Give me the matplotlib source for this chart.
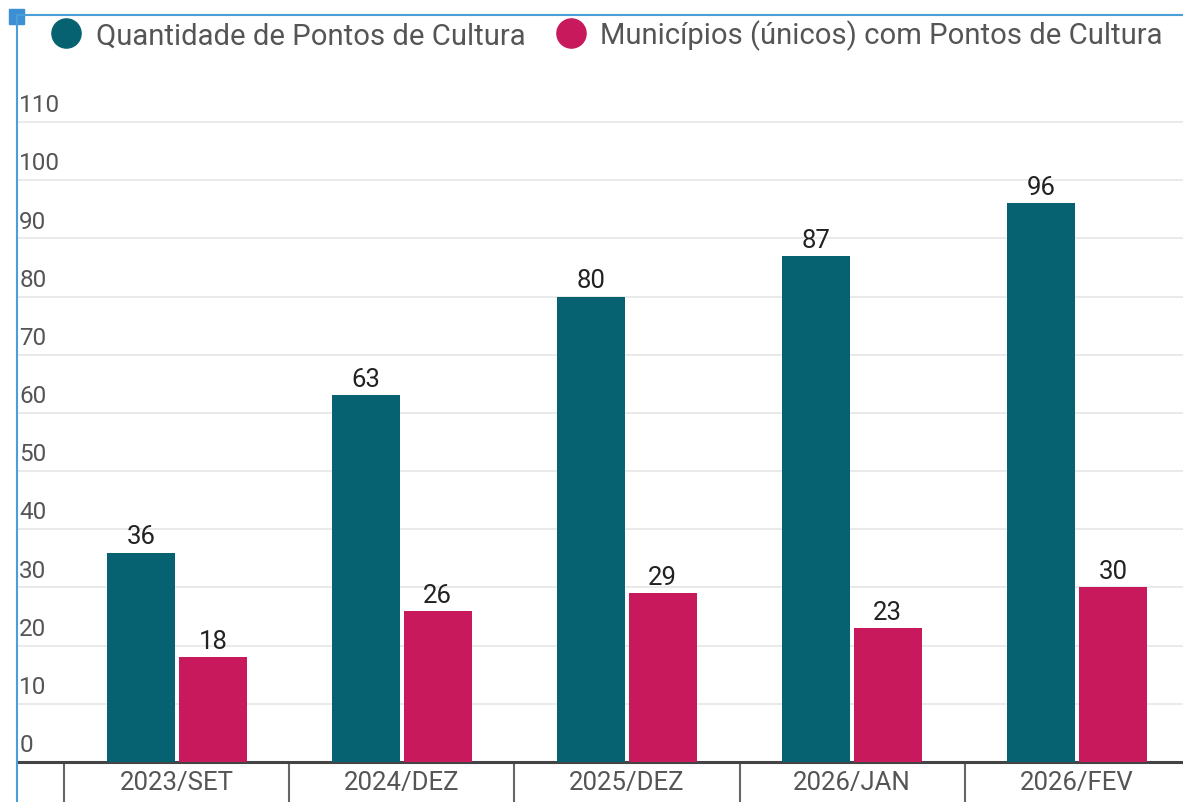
import numpy as np
import matplotlib
matplotlib.use("Agg")
import matplotlib.pyplot as plt
from matplotlib.patches import Rectangle
from matplotlib.lines import Line2D

plt.rcParams['font.family'] = ['Roboto', 'DejaVu Sans']

# Data
categories = ['2023/SET', '2024/DEZ', '2025/DEZ', '2026/JAN', '2026/FEV']
pontos = [36, 63, 80, 87, 96]
municipios = [18, 26, 29, 23, 30]
series_names = ['Quantidade de Pontos de Cultura', 'Municípios (únicos) com Pontos de Cultura']
y_ticks = [0, 10, 20, 30, 40, 50, 60, 70, 80, 90, 100, 110]

teal = '#066270'
pink = '#C8195C'
label_gray = '#555555'

fig = plt.figure(figsize=(11.83, 8.03), dpi=100)
ax = fig.add_axes([17 / 1183, 40 / 803, 1 - 17 / 1183, (763 - 16) / 803])

x = np.arange(len(categories))
w = 0.3
gap = 0.009
b1 = ax.bar(x - w / 2 - gap, pontos, width=w, color=teal, zorder=3)
b2 = ax.bar(x + w / 2 + gap, municipios, width=w, color=pink, zorder=3)

for bars, vals in ((b1, pontos), (b2, municipios)):
    for r, v in zip(bars, vals):
        ax.annotate(str(v), (r.get_x() + r.get_width() / 2, v), xytext=(0, 3),
                    textcoords='offset points', ha='center', va='bottom',
                    fontsize=18.5, color='#222222', zorder=4)

ax.set_xlim(-0.711, 4.471)
ax.set_ylim(0, 128.4)

# gridlines + y labels sitting above them
for t in y_ticks:
    if t > 0:
        ax.axhline(t, color='#e6e6e6', lw=1.2, zorder=1)
    ax.text(0.002, t + 1.0, str(t), transform=ax.get_yaxis_transform(),
            ha='left', va='bottom', fontsize=17.5, color=label_gray)

ax.set_yticks([])
ax.set_xticks(x)
ax.set_xticklabels(categories, fontsize=18.5, color=label_gray)
ax.set_xticks(np.arange(len(categories)) - 0.5, minor=True)
ax.tick_params(axis='x', which='major', length=0, pad=6)
ax.tick_params(axis='x', which='minor', length=30, width=1.5, color='#666666')

for s in ('top', 'right', 'left'):
    ax.spines[s].set_visible(False)
ax.spines['bottom'].set_color('#444444')
ax.spines['bottom'].set_linewidth(2.2)

# legend
handles = [Line2D([], [], marker='o', ls='', markersize=21, color=teal),
           Line2D([], [], marker='o', ls='', markersize=21, color=pink)]
fig.legend(handles, series_names, loc='center left', bbox_to_anchor=(51 / 1183, 1 - 36 / 803),
           ncol=2, frameon=False, fontsize=21.1, labelcolor=label_gray,
           handlelength=1.0, handletextpad=0.52, columnspacing=1.05,
           borderaxespad=0, borderpad=0)

# selection frame
fig.add_artist(Line2D([17 / 1183, 17 / 1183], [0, 1 - 16 / 803], transform=fig.transFigure,
                      color='#4a9fd9', lw=1.5))
fig.add_artist(Line2D([17 / 1183, 1], [1 - 16 / 803, 1 - 16 / 803], transform=fig.transFigure,
                      color='#4a9fd9', lw=1.5))
fig.add_artist(Rectangle((9 / 1183, 1 - 25 / 803), 15 / 1183, 15 / 803, transform=fig.transFigure,
                         color='#3c8fd4'))

fig.savefig('out.png', dpi=100)
